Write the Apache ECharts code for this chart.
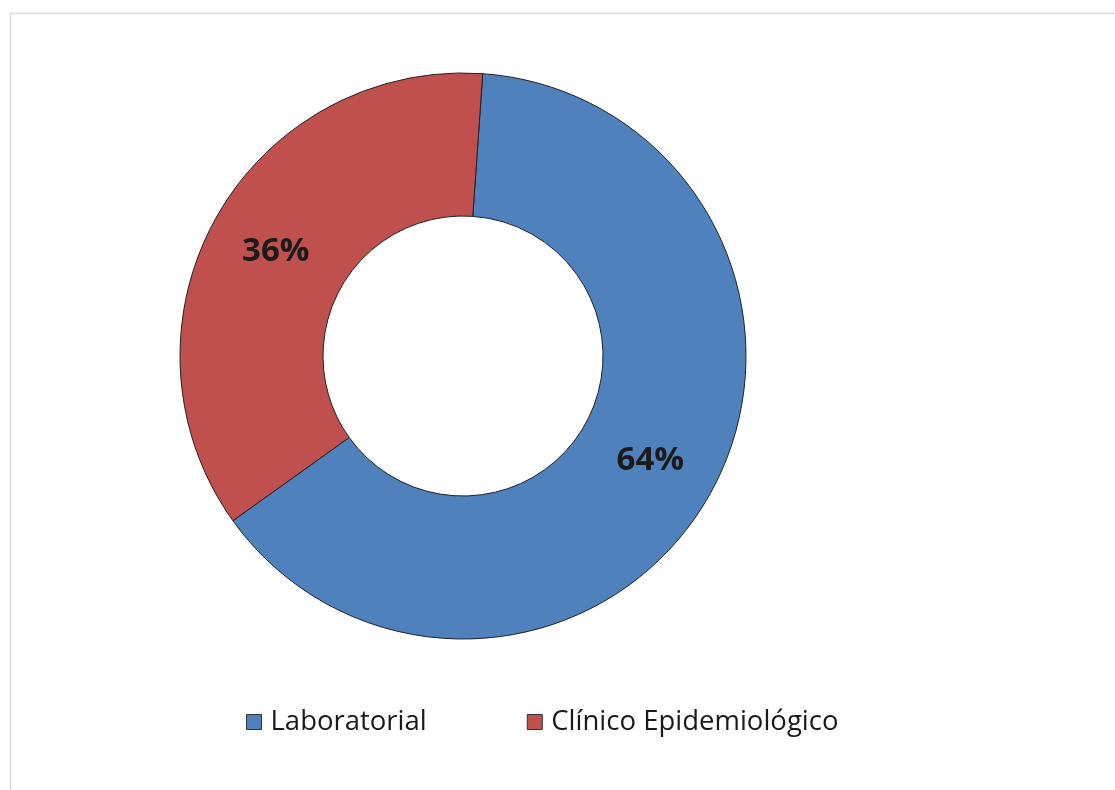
<!DOCTYPE html>
<html><head><meta charset="utf-8">
<script src="https://cdn.jsdelivr.net/npm/echarts@6/dist/echarts.min.js"></script>
<style>html,body{margin:0;padding:0;background:#fff;}#c{width:1115px;height:790px;}</style>
</head><body><div id="c"></div>
<script>
const categories = ['Laboratorial', 'Clínico Epidemiológico'];
const values = [64, 36];
const colors = ['#4F81BD', '#C0504D'];

const chart = echarts.init(document.getElementById('c'));
chart.setOption({
  backgroundColor: '#fff',
  animation: false,
  graphic: [{
    type: 'rect', silent: true,
    shape: { x: 10.5, y: 13.5, width: 1200, height: 900 },
    style: { fill: 'none', stroke: '#d9d9d9', lineWidth: 1.5 }
  }],
  legend: {
    left: 241, top: 703,
    itemWidth: 15, itemHeight: 15, itemGap: 100,
    icon: 'rect',
    textStyle: { fontFamily: 'Open Sans', fontSize: 27.5, color: '#1a1a1a', padding: [0, 0, 0, 4] },
    itemStyle: { borderColor: '#333', borderWidth: 1 },
    data: categories
  },
  series: [{
    type: 'pie',
    center: [463, 356],
    radius: [140, 283],
    startAngle: 86,
    clockwise: true,
    label: {
      position: 'inside',
      formatter: '{c}%',
      fontFamily: 'Open Sans', fontWeight: 'bold', fontSize: 33, color: '#1a1a1a'
    },
    labelLine: { show: false },
    itemStyle: { borderColor: '#222', borderWidth: 1 },
    emphasis: { disabled: true },
    data: categories.map((n, i) => ({ name: n, value: values[i], itemStyle: { color: colors[i] } }))
  }]
});
</script></body></html>
